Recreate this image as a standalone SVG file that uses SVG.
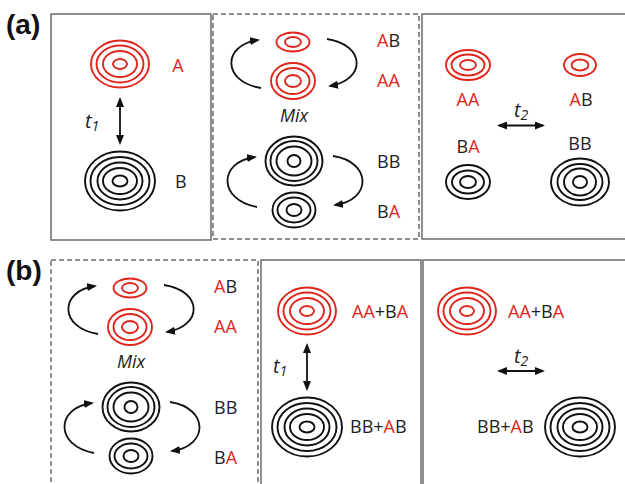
<svg xmlns="http://www.w3.org/2000/svg" width="625" height="484" viewBox="0 0 625 484">
<style>
.bx{fill:none;stroke:#6b6b6b;stroke-width:1.5}
.dbx{fill:none;stroke:#6b6b6b;stroke-width:1.5;stroke-dasharray:5 3}
.r ellipse{fill:none;stroke:#e0261c;stroke-width:1.9}
.k ellipse{fill:none;stroke:#111;stroke-width:1.9}
.lbl{font-family:"Open Sans","Noto Sans",sans-serif;font-size:18px;fill:#222}
.rt{fill:#e0261c}
.it{font-family:"Open Sans","Noto Sans",sans-serif;font-style:italic;font-size:18px;fill:#222}
.tt{font-size:20px}
.sub{font-size:14px}
.pl{font-family:"Liberation Sans",Arial,sans-serif;font-weight:bold;font-size:28px;fill:#111}
.cn{fill:none;stroke:#111;stroke-width:1.8}
</style>
<defs>
<marker id="ah" viewBox="0 0 10 8" refX="8" refY="4" markerWidth="10" markerHeight="8" markerUnits="userSpaceOnUse" orient="auto-start-reverse">
<path d="M0,0 L10,4 L0,8 z" fill="#111"/>
</marker>
<g id="ring4r" class="r"><ellipse rx="29" ry="23.5"/><ellipse rx="23.5" ry="18.5"/><ellipse rx="17" ry="13"/><ellipse rx="7" ry="5"/></g>
<g id="ring5k" class="k"><ellipse rx="35" ry="29.5"/><ellipse rx="29.5" ry="24"/><ellipse rx="22.5" ry="18.5"/><ellipse rx="17" ry="13"/><ellipse rx="7.5" ry="5.5"/></g>
</defs>

<!-- panel labels -->
<text class="pl" x="6" y="34">(a)</text>
<text class="pl" x="6" y="280">(b)</text>

<!-- frames -->
<g id="frames">
<rect class="bx" x="51" y="14" width="160" height="226"/>
<rect class="dbx" x="213" y="14" width="206" height="225"/>
<rect class="bx" x="422" y="14" width="210" height="225"/>
<rect class="dbx" x="51" y="260" width="207" height="240"/>
<rect class="bx" x="261" y="260" width="160" height="240"/>
<rect class="bx" x="423" y="260" width="210" height="240"/>
</g>

<!-- (a) panel 1 -->
<g id="a1-A"><use href="#ring4r" x="120" y="64"/><text class="lbl rt" x="178" y="72" text-anchor="middle">A</text></g>
<g id="a1-B"><use href="#ring5k" x="120" y="181"/><text class="lbl" x="175" y="188">B</text></g>
<text class="it tt" x="85" y="128">t<tspan class="sub" dy="3">1</tspan></text>

<!-- (a) panel 2 -->
<g id="a2">
<g id="a2-AB" class="r"><ellipse cx="293" cy="42" rx="16.5" ry="9.5"/><ellipse cx="293" cy="42" rx="8" ry="5"/></g>
<text class="lbl" x="377" y="47"><tspan class="rt">A</tspan>B</text>
<g id="a2-AA" class="r"><ellipse cx="293" cy="81" rx="22" ry="18"/><ellipse cx="293" cy="81" rx="16.5" ry="13"/><ellipse cx="293" cy="81" rx="8" ry="6"/></g>
<text class="lbl rt" x="377" y="87">AA</text>
<text class="it" x="294" y="122" text-anchor="middle">Mix</text>
<g id="a2-BB" class="k"><ellipse cx="294" cy="161" rx="28.5" ry="24.5"/><ellipse cx="294" cy="161" rx="23.5" ry="20"/><ellipse cx="294" cy="161" rx="17.5" ry="14.5"/><ellipse cx="294" cy="161" rx="6.5" ry="6"/></g>
<text class="lbl" x="377" y="168">BB</text>
<g id="a2-BA" class="k"><ellipse cx="294" cy="210" rx="21.5" ry="17.5"/><ellipse cx="294" cy="210" rx="16.5" ry="12.5"/><ellipse cx="294" cy="210" rx="7.5" ry="6"/></g>
<text class="lbl" x="377" y="218">B<tspan class="rt">A</tspan></text>
</g>

<!-- (a) panel 3 -->
<g id="a3-AA"><g class="r"><ellipse cx="468" cy="65" rx="22" ry="15"/><ellipse cx="468" cy="65" rx="16.5" ry="10.5"/><ellipse cx="468" cy="65" rx="8" ry="5"/></g><text class="lbl rt" x="468" y="106" text-anchor="middle">AA</text></g>
<g id="a3-AB"><g class="r"><ellipse cx="580" cy="65" rx="16" ry="11"/><ellipse cx="580" cy="65" rx="8.5" ry="5.5"/></g><text class="lbl" x="581" y="106" text-anchor="middle"><tspan class="rt">A</tspan>B</text></g>
<g id="a3-BA"><g class="k"><ellipse cx="468" cy="182" rx="22" ry="17"/><ellipse cx="468" cy="182" rx="16" ry="11.5"/><ellipse cx="468" cy="182" rx="8" ry="6"/></g><text class="lbl" x="468" y="153" text-anchor="middle">B<tspan class="rt">A</tspan></text></g>
<g id="a3-BB"><g class="k"><ellipse cx="580" cy="182" rx="29" ry="23.5"/><ellipse cx="580" cy="182" rx="22.5" ry="18"/><ellipse cx="580" cy="182" rx="16" ry="13.5"/><ellipse cx="580" cy="182" rx="7" ry="6"/></g><text class="lbl" x="580" y="150" text-anchor="middle">BB</text></g>
<text class="it tt" x="514" y="117">t<tspan class="sub" dy="3">2</tspan></text>

<!-- (b) panel 1 (mix) -->
<g id="b1" transform="translate(-163,246)">
<g id="b1-AB" class="r"><ellipse cx="293" cy="42" rx="16.5" ry="9.5"/><ellipse cx="293" cy="42" rx="8" ry="5"/></g>
<text class="lbl" x="377" y="47"><tspan class="rt">A</tspan>B</text>
<g id="b1-AA" class="r"><ellipse cx="293" cy="81" rx="22" ry="18"/><ellipse cx="293" cy="81" rx="16.5" ry="13"/><ellipse cx="293" cy="81" rx="8" ry="6"/></g>
<text class="lbl rt" x="377" y="87">AA</text>
<text class="it" x="294" y="122" text-anchor="middle">Mix</text>
<g id="b1-BB" class="k"><ellipse cx="294" cy="161" rx="28.5" ry="24.5"/><ellipse cx="294" cy="161" rx="23.5" ry="20"/><ellipse cx="294" cy="161" rx="17.5" ry="14.5"/><ellipse cx="294" cy="161" rx="6.5" ry="6"/></g>
<text class="lbl" x="377" y="168">BB</text>
<g id="b1-BA" class="k"><ellipse cx="294" cy="210" rx="21.5" ry="17.5"/><ellipse cx="294" cy="210" rx="16.5" ry="12.5"/><ellipse cx="294" cy="210" rx="7.5" ry="6"/></g>
<text class="lbl" x="377" y="218">B<tspan class="rt">A</tspan></text>
</g>

<!-- (b) panel 2 -->
<g id="b2-AA"><use href="#ring4r" x="307" y="311"/><text class="lbl" x="352" y="318"><tspan class="rt">AA</tspan>+B<tspan class="rt">A</tspan></text></g>
<g id="b2-BB"><use href="#ring5k" x="307" y="427"/><text class="lbl" x="350" y="433">BB+<tspan class="rt">A</tspan>B</text></g>
<text class="it tt" x="273" y="373">t<tspan class="sub" dy="3">1</tspan></text>

<!-- (b) panel 3 -->
<g id="b3-AA"><use href="#ring4r" x="467" y="311"/><text class="lbl" x="508" y="318"><tspan class="rt">AA</tspan>+B<tspan class="rt">A</tspan></text></g>
<g id="b3-BB"><use href="#ring5k" x="580" y="427"/><text class="lbl" x="477" y="433">BB+<tspan class="rt">A</tspan>B</text></g>
<text class="it tt" x="514" y="363">t<tspan class="sub" dy="3">2</tspan></text>

<!-- connectors -->
<g id="connectors" class="cn">
<path d="M120,99 L120,143" marker-start="url(#ah)" marker-end="url(#ah)"/>
<path d="M261,88 C222,82 222,45 258,40" marker-end="url(#ah)"/>
<path d="M327,39 C366,45 366,80 330,86" marker-end="url(#ah)"/>
<path d="M257,207 C218,200 218,162 255,157" marker-end="url(#ah)"/>
<path d="M333,156 C372,162 372,200 335,205" marker-end="url(#ah)"/>
<path d="M499,125.5 L543,125.5" marker-start="url(#ah)" marker-end="url(#ah)"/>
<g transform="translate(-163,246)">
<path d="M261,88 C222,82 222,45 258,40" marker-end="url(#ah)"/>
<path d="M327,39 C366,45 366,80 330,86" marker-end="url(#ah)"/>
<path d="M257,207 C218,200 218,162 255,157" marker-end="url(#ah)"/>
<path d="M333,156 C372,162 372,200 335,205" marker-end="url(#ah)"/>
</g>
<path d="M307,345 L307,389" marker-start="url(#ah)" marker-end="url(#ah)"/>
<path d="M499,371 L543,371" marker-start="url(#ah)" marker-end="url(#ah)"/>
</g>
</svg>
